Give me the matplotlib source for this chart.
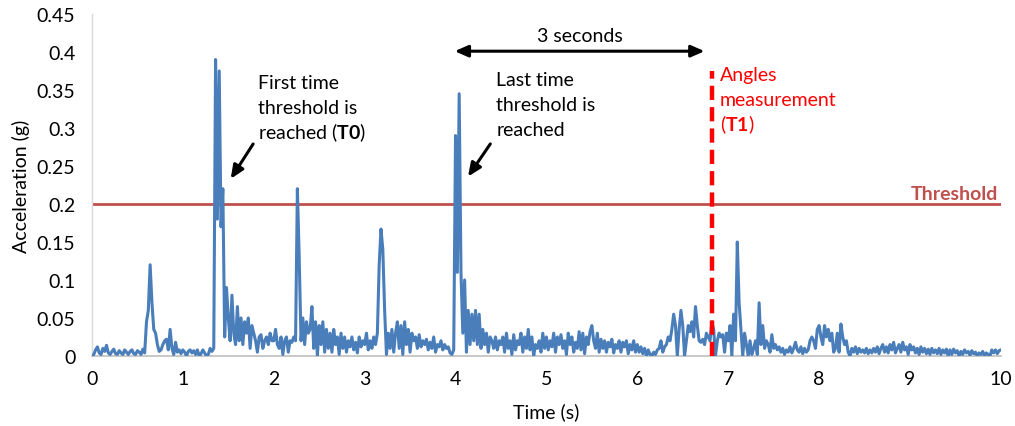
import numpy as np
import matplotlib
matplotlib.use("Agg")
import matplotlib.pyplot as plt

plt.rcParams['font.family'] = ['Lato', 'DejaVu Sans']
plt.rcParams['mathtext.fontset'] = 'custom'
plt.rcParams['mathtext.rm'] = 'Lato'
plt.rcParams['mathtext.bf'] = 'Lato:bold'

# acceleration (g), sampled every 0.02 s, one list per second
sec0 = [0.0, 0.002, 0.008, 0.012, 0.004, 0.002,
        0.01, 0.006, 0.014, 0.004, 0.002,
        0.006, 0.009, 0.003, 0.002, 0.007,
        0.004, 0.002, 0.008, 0.005, 0.002,
        0.006, 0.008, 0.003, 0.002, 0.007,
        0.005, 0.002, 0.009, 0.004,
        0.045, 0.06, 0.12, 0.07, 0.035, 0.03,
        0.015, 0.006, 0.008, 0.015, 0.02,
        0.022, 0.008, 0.035, 0.01, 0.002,
        0.018, 0.005, 0.008, 0.003]
sec1 = [0.008, 0.005, 0.0, 0.006, 0.008, 0.004,
        0.007, 0.002, 0.008, 0.0, 0.003,
        0.008, 0.004, 0.0, 0.002, 0.01,
        0.006, 0.01,
        0.39, 0.18, 0.375, 0.17, 0.22, 0.025,
        0.09, 0.05, 0.02, 0.08, 0.03,
        0.015, 0.065, 0.02, 0.05, 0.015,
        0.045, 0.03, 0.05, 0.01, 0.04,
        0.03, 0.02, 0.005, 0.025, 0.028,
        0.01, 0.02, 0.025, 0.015, 0.03, 0.02]
sec2 = [0.02, 0.035, 0.015, 0.01, 0.025, 0.002,
        0.02, 0.025, 0.005, 0.02, 0.018,
        0.025, 0.02, 0.22, 0.13, 0.02,
        0.05, 0.015, 0.045, 0.03, 0.035,
        0.065, 0.01, 0.045, 0.0, 0.04,
        0.015, 0.045, 0.005, 0.035, 0.01,
        0.03, 0.005, 0.035, 0.015, 0.025,
        0.002, 0.03, 0.01, 0.025, 0.005,
        0.02, 0.012, 0.025, 0.008, 0.018,
        0.004, 0.025, 0.012, 0.02]
sec3 = [0.015, 0.03, 0.008, 0.02, 0.01, 0.025,
        0.015, 0.03, 0.12, 0.167, 0.14,
        0.06, 0.002, 0.03, 0.01, 0.035,
        0.005, 0.03, 0.045, 0.01, 0.04,
        0.002, 0.045, 0.015, 0.035, 0.005,
        0.03, 0.02, 0.025, 0.01, 0.028,
        0.012, 0.02, 0.015, 0.022, 0.008,
        0.018, 0.01, 0.025, 0.005, 0.015,
        0.012, 0.02, 0.008, 0.015, 0.01,
        0.012, 0.004, 0.002, 0.008]
sec4 = [0.29, 0.11, 0.345, 0.11, 0.03, 0.1,
        0.005, 0.06, 0.015, 0.055, 0.02,
        0.06, 0.015, 0.055, 0.01, 0.035,
        0.015, 0.03, 0.005, 0.025, 0.02,
        0.01, 0.025, 0.008, 0.02, 0.015,
        0.025, 0.005, 0.03, 0.01, 0.02,
        0.002, 0.028, 0.008, 0.02, 0.015,
        0.03, 0.005, 0.025, 0.01, 0.035,
        0.008, 0.025, 0.0, 0.015, 0.01,
        0.02, 0.005, 0.03, 0.01]
sec5 = [0.025, 0.008, 0.02, 0.012, 0.03, 0.005,
        0.025, 0.015, 0.028, 0.01, 0.02,
        0.002, 0.03, 0.015, 0.025, 0.005,
        0.018, 0.01, 0.032, 0.008, 0.03,
        0.003, 0.025, 0.015, 0.032, 0.04,
        0.02, 0.01, 0.03, 0.005, 0.022,
        0.01, 0.02, 0.005, 0.018, 0.012,
        0.022, 0.004, 0.015, 0.01, 0.02,
        0.005, 0.018, 0.012, 0.02, 0.003,
        0.015, 0.008, 0.02, 0.005]
sec6 = [0.015, 0.005, 0.012, 0.003, 0.01, 0.0,
        0.008, 0.002, 0.0, 0.005, 0.002,
        0.008, 0.01, 0.02, 0.005, 0.012,
        0.015, 0.025, 0.02, 0.035, 0.055,
        0.04, 0.0, 0.035, 0.06, 0.04,
        0.0, 0.02, 0.04, 0.032, 0.045,
        0.025, 0.065, 0.04, 0.02, 0.018,
        0.022, 0.015, 0.03, 0.025, 0.02,
        0.045, 0.035, 0.0, 0.02, 0.03,
        0.025, 0.028, 0.005, 0.03]
sec7 = [0.02, 0.04, 0.0, 0.055, 0.02, 0.15,
        0.07, 0.035, 0.0, 0.03, 0.015,
        0.0, 0.02, 0.002, 0.01, 0.02,
        0.002, 0.07, 0.015, 0.04, 0.01,
        0.02, 0.015, 0.005, 0.028, 0.01,
        0.015, 0.008, 0.012, 0.005, 0.01,
        0.002, 0.008, 0.005, 0.012, 0.004,
        0.01, 0.018, 0.008, 0.005, 0.012,
        0.003, 0.01, 0.005, 0.008, 0.02,
        0.025, 0.02, 0.01, 0.035]
sec8 = [0.04, 0.025, 0.015, 0.04, 0.025, 0.035,
        0.02, 0.03, 0.005, 0.01, 0.03,
        0.005, 0.042, 0.025, 0.015, 0.02,
        0.005, 0.0, 0.01, 0.005, 0.012,
        0.003, 0.01, 0.005, 0.008, 0.004,
        0.01, 0.003, 0.008, 0.004, 0.01,
        0.005, 0.012, 0.003, 0.01, 0.015,
        0.005, 0.012, 0.004, 0.015, 0.008,
        0.018, 0.004, 0.01, 0.015, 0.005,
        0.018, 0.008, 0.012, 0.002]
sec9 = [0.015, 0.008, 0.012, 0.004, 0.01, 0.002,
        0.012, 0.005, 0.01, 0.003, 0.009,
        0.002, 0.01, 0.004, 0.008, 0.003,
        0.01, 0.002, 0.008, 0.004, 0.009,
        0.0, 0.008, 0.002, 0.009, 0.004,
        0.007, 0.0, 0.006, 0.002, 0.008,
        0.004, 0.006, 0.001, 0.007, 0.003,
        0.005, 0.0, 0.004, 0.002, 0.006,
        0.0, 0.004, 0.002, 0.0, 0.008,
        0.004, 0.008, 0.003, 0.007,
        0.008]

accel = np.array(sec0 + sec1 + sec2 + sec3 + sec4 + sec5 + sec6 + sec7 + sec8 + sec9)
dt = 0.02
time = np.arange(len(accel)) * dt

threshold = 0.2
t_last = 3.99    # last time threshold is reached
t_meas = 6.82    # angles measurement (T1)
t_arrow_end = 6.74

yticks = [0, 0.05, 0.1, 0.15, 0.2, 0.25, 0.3, 0.35, 0.4, 0.45]
ytick_labels = ['0', '0.05', '0.1', '0.15', '0.2', '0.25', '0.3', '0.35', '0.4', '0.45']
xticks = list(range(0, 11))

first_lines = ['First time', 'threshold is', 'reached ($\\mathbf{T0}$)']
last_lines = ['Last time', 'threshold is', 'reached']
meas_lines = ['Angles', 'measurement', '($\\mathbf{T1}$)']

fs = 14
line_step = 0.0329   # ~25 px between text lines


def text_block(ax, x, y0, lines, **kw):
    for i, s in enumerate(lines):
        ax.text(x, y0 - i * line_step, s, fontsize=fs, va='baseline',
                ha='left', **kw)


fig = plt.figure(figsize=(10.15, 4.27), dpi=100)
ax = fig.add_axes([0.0906, 0.164, 0.8955, 0.801])

ax.plot(time, accel, color='#4A7EBB', lw=2.2, zorder=3)
ax.plot([0, 10], [threshold, threshold], color='#C0504D', lw=2, zorder=2)
ax.plot([t_meas, t_meas], [0, 0.375], color='#FF0000', lw=3.2,
        dashes=(3.2, 1.6), zorder=4)

ax.set_xlim(0, 10)
ax.set_ylim(0, 0.45)
ax.set_xticks(xticks)
ax.set_yticks(yticks)
ax.set_yticklabels(ytick_labels)
ax.tick_params(length=0, labelsize=fs, colors='black')
ax.tick_params(axis='y', pad=12)
ax.tick_params(axis='x', pad=10)
for s in ['top', 'right']:
    ax.spines[s].set_visible(False)
ax.spines['left'].set_color('#D9D9D9')
ax.spines['bottom'].set_color('#BFBFBF')
ax.spines['left'].set_linewidth(1)
ax.spines['bottom'].set_linewidth(1.2)

ax.set_xlabel('Time (s)', fontsize=fs, labelpad=11)
ax.set_ylabel('Acceleration (g)', fontsize=fs, labelpad=5)

# annotations
ax.text(9.97, 0.203, 'Threshold', color='#C0504D', fontsize=fs,
        fontweight='bold', ha='right', va='bottom')

text_block(ax, 1.83, 0.3526, first_lines)
ax.annotate('', xy=(1.51, 0.23), xytext=(1.79, 0.282),
            arrowprops=dict(arrowstyle='-|>,head_width=0.35,head_length=0.8',
                            color='black', lw=2.2))

text_block(ax, 4.45, 0.3566, last_lines)
ax.annotate('', xy=(4.12, 0.233), xytext=(4.40, 0.282),
            arrowprops=dict(arrowstyle='-|>,head_width=0.35,head_length=0.8',
                            color='black', lw=2.2))

text_block(ax, t_meas + 0.09, 0.3632, meas_lines, color='#FF0000')

ax.annotate('', xy=(t_last, 0.401), xytext=(t_arrow_end, 0.401),
            arrowprops=dict(arrowstyle='<|-|>,head_width=0.35,head_length=0.8',
                            color='black', lw=2.2, shrinkA=0, shrinkB=0))
ax.text((t_last + t_arrow_end) / 2, 0.411, '3 seconds', fontsize=fs,
        ha='center', va='bottom')

fig.savefig('out.png', dpi=100)
